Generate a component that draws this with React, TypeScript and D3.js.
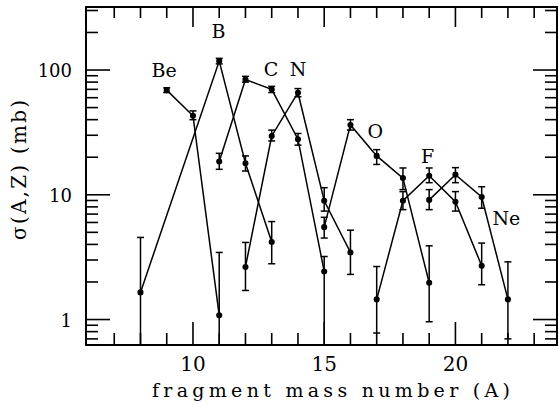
import React from 'react'
import * as d3 from 'd3'

// fragment cross sections
const elements = ['Be', 'B', 'C', 'N', 'O', 'F', 'Ne']
const massNumbers = [
  [9, 10, 11],
  [8, 11, 12, 13],
  [11, 12, 13, 14, 15],
  [12, 13, 14, 15, 16],
  [15, 16, 17, 18, 19],
  [17, 18, 19, 20, 21],
  [19, 20, 21, 22],
]
const sigma = [
  [69, 43, 1.08],
  [1.65, 118, 17.9, 4.18],
  [18.5, 84, 70, 27.9, 2.43],
  [2.64, 29.6, 65.8, 8.96, 3.45],
  [5.5, 36.3, 20.5, 13.6, 1.97],
  [1.45, 8.96, 14.2, 8.8, 2.7],
  [9.1, 14.5, 9.6, 1.45],
]
const sigmaLow = [
  [66, 40, 0.3],
  [0.3, 112, 15.5, 2.8],
  [16, 80, 66, 25, 0.3],
  [1.71, 27, 61, 7.4, 2.3],
  [4.5, 33, 17.5, 11, 0.96],
  [0.78, 7.6, 12.5, 7.4, 1.9],
  [7.6, 12.5, 7.8, 0.7],
]
const sigmaHigh = [
  [72, 47, 3.45],
  [4.55, 124, 20.5, 6.1],
  [21.5, 89, 74, 31, 3.2],
  [4.15, 33, 71, 11.4, 5.2],
  [6.6, 40, 23, 16.4, 3.9],
  [2.66, 10.6, 16.4, 10.6, 4.1],
  [11, 16.5, 11.6, 2.9],
]
// label anchors in data units (A, mb)
const labelA = [8.9, 10.97, 12.97, 14.0, 16.95, 18.94, 21.94]
const labelSigma = [88, 181, 90, 90, 28.6, 18, 5.75]

const xMajor = [10, 15, 20]
const xMinor = [7, 8, 9, 11, 12, 13, 14, 16, 17, 18, 19, 21, 22, 23]
const yMajor = [1, 10, 100]
const yMinor = [0.7, 0.8, 0.9, 2, 3, 4, 5, 6, 7, 8, 9, 20, 30, 40, 50, 60, 70, 80, 90, 200, 300]

const W = 559
const H = 404
const left = 86
const right = 557
const top = 7
const bottom = 345
const font = '"DejaVu Serif", serif'

export default function App() {
  const x = d3.scaleLinear().domain([5.924, 23.87]).range([left, right])
  const y = d3.scaleLog().domain([0.625, 320]).range([bottom, top])
  const line = d3
    .line<number>()
    .x((d) => d[0])
    .y((d) => d[1])

  const ticks: JSX.Element[] = []
  xMajor.concat(xMinor).forEach((v, i) => {
    const len = i < xMajor.length ? 23 : 12
    const px = x(v)
    ticks.push(<line key={'xb' + v} x1={px} x2={px} y1={bottom} y2={bottom - len} />)
    ticks.push(<line key={'xt' + v} x1={px} x2={px} y1={top} y2={top + (i < xMajor.length ? 20 : 11)} />)
  })
  yMajor.concat(yMinor).forEach((v, i) => {
    const len = i < yMajor.length ? 24 : 12
    const py = y(v)
    ticks.push(<line key={'yl' + v} x1={left} x2={left + len} y1={py} y2={py} />)
    ticks.push(<line key={'yr' + v} x1={right} x2={right - len} y1={py} y2={py} />)
  })

  return (
    <svg width={W} height={H} style={{ position: 'absolute', left: 0, top: 0, background: '#fff' }}>
      <defs>
        <clipPath id="plot">
          <rect x={left} y={top} width={right - left} height={bottom - top} />
        </clipPath>
      </defs>
      <g stroke="#000" strokeWidth={1.6}>{ticks}</g>
      <rect x={left} y={top} width={right - left} height={bottom - top} fill="none" stroke="#000" strokeWidth={2} />

      <g clipPath="url(#plot)">
        {elements.map((el, s) => {
          const pts = massNumbers[s].map((a, j) => [x(a), y(sigma[s][j])] as [number, number])
          return (
            <g key={el}>
              <path d={line(pts as any) || ''} fill="none" stroke="#000" strokeWidth={1.5} />
              {massNumbers[s].map((a, j) => {
                const px = x(a)
                const lo = y(sigmaLow[s][j])
                const hi = y(sigmaHigh[s][j])
                return (
                  <g key={a} stroke="#000" strokeWidth={1.5}>
                    <line x1={px} x2={px} y1={lo} y2={hi} />
                    <line x1={px - 3.5} x2={px + 3.5} y1={hi} y2={hi} />
                    <line x1={px - 3.5} x2={px + 3.5} y1={lo} y2={lo} />
                    <circle cx={px} cy={y(sigma[s][j])} r={2.3} fill="#000" />
                  </g>
                )
              })}
            </g>
          )
        })}
      </g>

      <g fontFamily={font} fontSize={19} fill="#000" textAnchor="middle">
        {elements.map((el, s) => (
          <text key={el} x={x(labelA[s])} y={y(labelSigma[s])}>
            {el}
          </text>
        ))}
      </g>

      <g fontFamily={font} fontSize={18} fill="#000" textAnchor="end">
        {yMajor.map((v) => (
          <text key={v} x={72} y={y(v) + 7}>
            {v}
          </text>
        ))}
      </g>
      <g fontFamily={font} fontSize={20} fill="#000" textAnchor="middle">
        {xMajor.map((v) => (
          <text key={v} x={x(v)} y={371}>
            {v}
          </text>
        ))}
      </g>

      <text x={331} y={397} fontFamily={font} fontSize={19} textAnchor="middle" textLength={358} lengthAdjust="spacing">
        fragment mass number (A)
      </text>
      <text
        transform="translate(26,170) rotate(-90)"
        fontFamily={font}
        fontSize={20}
        textAnchor="middle"
        textLength={140}
        lengthAdjust="spacing"
      >
        σ(A,Z) (mb)
      </text>
    </svg>
  )
}
